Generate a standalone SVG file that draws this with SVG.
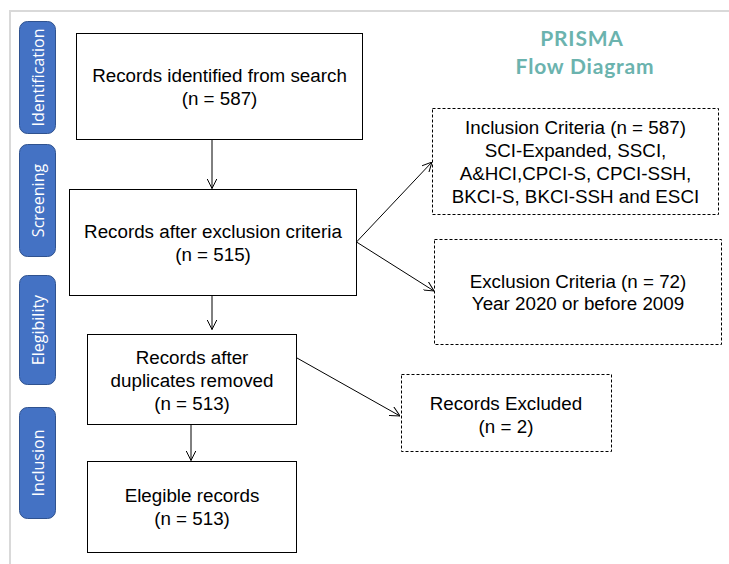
<svg xmlns="http://www.w3.org/2000/svg" width="729" height="564" viewBox="0 0 729 564">
<defs>
<style>
.frame{stroke:#d9d9d9;stroke-width:2;fill:none}
.side{fill:#4472c4;stroke:#2f528f;stroke-width:1}
.side-t{fill:#ffffff;font-family:"Open Sans","Noto Sans",sans-serif;font-size:16px;text-anchor:middle}
.box{fill:#ffffff;stroke:#000000;stroke-width:1}
.dbox{fill:#ffffff;stroke:#000000;stroke-width:1;stroke-dasharray:3 2}
.t{fill:#000000;font-family:"Liberation Sans",Arial,sans-serif;font-size:18.8px;text-anchor:middle}
.title{fill:#6bb3ae;font-family:"Lato","Open Sans",sans-serif;font-weight:bold;font-size:21px;letter-spacing:0.8px;text-anchor:middle}
.con{stroke:#000000;stroke-width:1;fill:none;marker-end:url(#ah)}
</style>
<marker id="ah" viewBox="0 0 10 10" refX="10" refY="5" markerWidth="10" markerHeight="10" markerUnits="userSpaceOnUse" orient="auto">
<path d="M0,0 L10,5 L0,10" fill="none" stroke="#000000" stroke-width="1"/>
</marker>
</defs>
<rect width="729" height="564" fill="#ffffff"/>
<path class="frame" d="M10,564 L10,11 L729,11"/>
<g id="title">
<text class="title" x="582" y="46">PRISMA</text>
<text class="title" x="585" y="74">Flow Diagram</text>
</g>
<g id="stage-identification">
<rect class="side" x="19.5" y="21.5" width="36" height="112" rx="8"/>
<text class="side-t" transform="translate(43.5,77.5) rotate(-90)">Identification</text>
</g>
<g id="stage-screening">
<rect class="side" x="19.5" y="144.5" width="36" height="112" rx="8"/>
<text class="side-t" transform="translate(43.5,200.5) rotate(-90)">Screening</text>
</g>
<g id="stage-elegibility">
<rect class="side" x="19.5" y="275.5" width="36" height="109" rx="8"/>
<text class="side-t" transform="translate(43.5,330) rotate(-90)">Elegibility</text>
</g>
<g id="stage-inclusion">
<rect class="side" x="19.5" y="407.5" width="36" height="111" rx="8"/>
<text class="side-t" transform="translate(43.5,463) rotate(-90)">Inclusion</text>
</g>
<g id="connectors">
<line class="con" x1="212" y1="139.5" x2="212" y2="188.5"/>
<line class="con" x1="212" y1="295.5" x2="212" y2="329.5"/>
<line class="con" x1="191" y1="424.5" x2="191" y2="460.5"/>
<line class="con" x1="356.5" y1="242" x2="432" y2="162"/>
<line class="con" x1="356.5" y1="242" x2="434" y2="291"/>
<line class="con" x1="297" y1="358" x2="400" y2="416"/>
</g>
<g id="records-identified">
<rect class="box" x="76.5" y="33.5" width="286" height="106"/>
<text class="t" x="219.5" y="82">Records identified from search</text>
<text class="t" x="219.5" y="105">(n = 587)</text>
</g>
<g id="records-after-exclusion">
<rect class="box" x="69.5" y="189.5" width="287" height="106"/>
<text class="t" x="213" y="238">Records after exclusion criteria</text>
<text class="t" x="213" y="261">(n = 515)</text>
</g>
<g id="records-after-duplicates">
<rect class="box" x="87.5" y="334.5" width="209" height="90"/>
<text class="t" x="192" y="364">Records after</text>
<text class="t" x="192" y="387">duplicates removed</text>
<text class="t" x="192" y="410">(n = 513)</text>
</g>
<g id="elegible-records">
<rect class="box" x="87.5" y="461.5" width="209" height="91"/>
<text class="t" x="192" y="502">Elegible records</text>
<text class="t" x="192" y="525">(n = 513)</text>
</g>
<g id="inclusion-criteria">
<rect class="dbox" x="432.5" y="108.5" width="286" height="106"/>
<text class="t" x="575.5" y="134">Inclusion Criteria (n = 587)</text>
<text class="t" x="575.5" y="157">SCI-Expanded, SSCI,</text>
<text class="t" x="575.5" y="180">A&amp;HCI,CPCI-S, CPCI-SSH,</text>
<text class="t" x="575.5" y="203">BKCI-S, BKCI-SSH and ESCI</text>
</g>
<g id="exclusion-criteria">
<rect class="dbox" x="434.5" y="239.5" width="287" height="105"/>
<text class="t" x="578" y="288">Exclusion Criteria (n = 72)</text>
<text class="t" x="578" y="310">Year 2020 or before 2009</text>
</g>
<g id="records-excluded">
<rect class="dbox" x="401.5" y="374.5" width="210" height="77"/>
<text class="t" x="506" y="410">Records Excluded</text>
<text class="t" x="506" y="433">(n = 2)</text>
</g>
</svg>
